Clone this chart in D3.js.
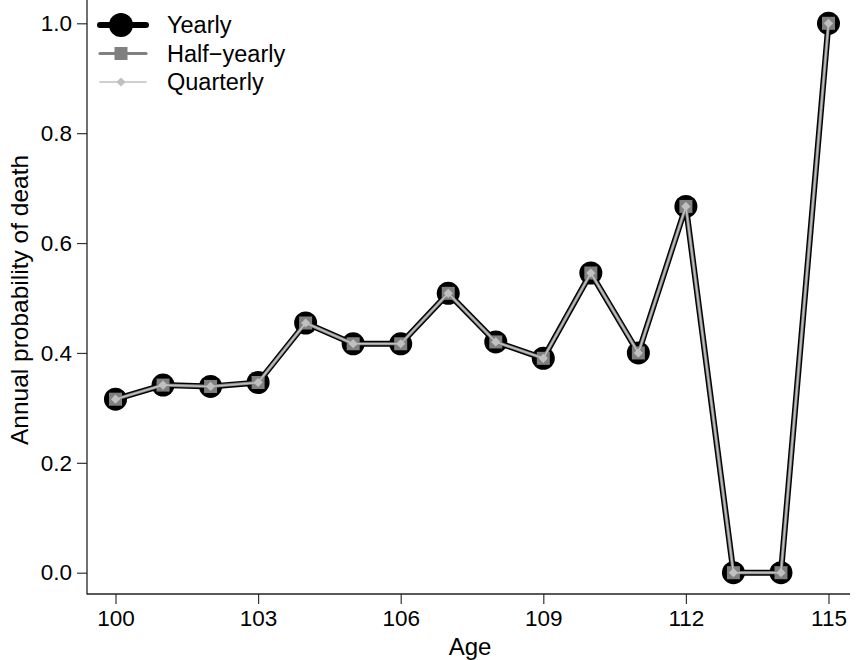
<!DOCTYPE html>
<html>
<head>
<meta charset="utf-8">
<script src="https://cdn.jsdelivr.net/npm/d3@7"></script>
<style>
  body { margin: 0; background: #fff; }
  text { font-family: "Liberation Sans", Arial, Helvetica, sans-serif; }
</style>
</head>
<body>
<div id="vis"></div>
<script>
const width = 857, height = 660;

// data
const ages = [100, 101, 102, 103, 104, 105, 106, 107, 108, 109, 110, 111, 112, 113, 114, 115];
const yearly = [0.3158, 0.3415, 0.3390, 0.3462, 0.4545, 0.4167, 0.4167, 0.5085, 0.4200, 0.3902, 0.5455, 0.4000, 0.6667, 0, 0, 1];
const halfYearly = [0.3158, 0.3415, 0.3390, 0.3462, 0.4545, 0.4167, 0.4167, 0.5085, 0.4200, 0.3902, 0.5455, 0.4000, 0.6667, 0, 0, 1];
const quarterly = [0.3158, 0.3415, 0.3390, 0.3462, 0.4545, 0.4167, 0.4167, 0.5085, 0.4200, 0.3902, 0.5455, 0.4000, 0.6667, 0, 0, 1];
const xTicks = [100, 103, 106, 109, 112, 115];
const yTicks = [0, 0.2, 0.4, 0.6, 0.8, 1.0];
const seriesNames = ['Yearly', 'Half\u2212yearly', 'Quarterly'];

const axisX = 87, axisY = 594;

const svg = d3.select('#vis')
    .append('svg')
    .attr('width', width)
    .attr('height', height);

const xScale = d3.scaleLinear().domain([100, 115]).range([115.5, 828.5]);
const yScale = d3.scaleLinear().domain([0, 1]).range([572.7, 23.3]);

// axes
const xAxis = d3.axisBottom(xScale).tickValues(xTicks).tickSize(10).tickPadding(6).tickFormat(d3.format('d'));
const yAxis = d3.axisLeft(yScale).tickValues(yTicks).tickSize(10).tickPadding(5).tickFormat(d3.format('.1f'));

const gx = svg.append('g')
    .attr('transform', `translate(0,${axisY})`)
    .call(xAxis);
const gy = svg.append('g')
    .attr('transform', `translate(${axisX},0)`)
    .call(yAxis);

[gx, gy].forEach(g => {
    g.select('.domain').remove();
    g.selectAll('.tick line').attr('stroke', '#333').attr('stroke-width', 1.2);
    g.selectAll('.tick text').attr('fill', '#000').style('font-size', '22.5px');
});

svg.append('line')
    .attr('x1', axisX).attr('x2', axisX)
    .attr('y1', 0).attr('y2', axisY + 0.5)
    .attr('stroke', '#222').attr('stroke-width', 1.3);
svg.append('line')
    .attr('x1', axisX).attr('x2', 850)
    .attr('y1', axisY).attr('y2', axisY)
    .attr('stroke', '#222').attr('stroke-width', 1.3);

// axis titles
svg.append('text')
    .attr('x', 470)
    .attr('y', 655)
    .attr('text-anchor', 'middle')
    .style('font-size', '24px')
    .text('Age');

svg.append('text')
    .attr('transform', 'rotate(-90)')
    .attr('x', -300)
    .attr('y', 28)
    .attr('text-anchor', 'middle')
    .style('font-size', '24.5px')
    .text('Annual probability of death');

// series
const line = d3.line()
    .x((d, i) => xScale(ages[i]))
    .y(d => yScale(d));

const plot = svg.append('g');

// yearly: thick black line + big circles
plot.append('path')
    .datum(yearly)
    .attr('d', line)
    .attr('fill', 'none')
    .attr('stroke', '#000')
    .attr('stroke-width', 6)
    .attr('stroke-linejoin', 'round');
plot.selectAll('.yearly')
    .data(yearly)
    .join('circle')
    .attr('class', 'yearly')
    .attr('cx', (d, i) => xScale(ages[i]))
    .attr('cy', d => yScale(d))
    .attr('r', 11.5)
    .attr('fill', '#000');

// half-yearly: gray line + squares
plot.append('path')
    .datum(halfYearly)
    .attr('d', line)
    .attr('fill', 'none')
    .attr('stroke', '#808080')
    .attr('stroke-width', 3.2)
    .attr('stroke-linejoin', 'round');
plot.selectAll('.half')
    .data(halfYearly)
    .join('rect')
    .attr('class', 'half')
    .attr('x', (d, i) => xScale(ages[i]) - 6.5)
    .attr('y', d => yScale(d) - 6.5)
    .attr('width', 13)
    .attr('height', 13)
    .attr('fill', '#808080');

// quarterly: light line + diamonds
plot.append('path')
    .datum(quarterly)
    .attr('d', line)
    .attr('fill', 'none')
    .attr('stroke', '#c0c0c0')
    .attr('stroke-width', 1.5)
    .attr('stroke-linejoin', 'round');
plot.selectAll('.quarter')
    .data(quarterly)
    .join('path')
    .attr('class', 'quarter')
    .attr('transform', (d, i) => `translate(${xScale(ages[i])},${yScale(d)})`)
    .attr('d', 'M0,-4.6L4.6,0L0,4.6L-4.6,0Z')
    .attr('fill', '#c0c0c0');

// legend
const legend = svg.append('g');
const rowY = [25, 53.5, 82];
const lx1 = 100, lx2 = 146, lcx = 121;

legend.append('line').attr('x1', lx1).attr('x2', lx2).attr('y1', rowY[0]).attr('y2', rowY[0])
    .attr('stroke', '#000').attr('stroke-width', 6).attr('stroke-linecap', 'round');
legend.append('circle').attr('cx', lcx).attr('cy', rowY[0]).attr('r', 12).attr('fill', '#000');

legend.append('line').attr('x1', lx1).attr('x2', lx2).attr('y1', rowY[1]).attr('y2', rowY[1])
    .attr('stroke', '#808080').attr('stroke-width', 3.2).attr('stroke-linecap', 'round');
legend.append('rect').attr('x', lcx - 6.5).attr('y', rowY[1] - 6.5).attr('width', 13).attr('height', 13).attr('fill', '#808080');

legend.append('line').attr('x1', lx1).attr('x2', lx2).attr('y1', rowY[2]).attr('y2', rowY[2])
    .attr('stroke', '#c0c0c0').attr('stroke-width', 1.5).attr('stroke-linecap', 'round');
legend.append('path').attr('transform', `translate(${lcx},${rowY[2]})`)
    .attr('d', 'M0,-4.6L4.6,0L0,4.6L-4.6,0Z').attr('fill', '#c0c0c0');

legend.selectAll('.legtext')
    .data(seriesNames)
    .join('text')
    .attr('class', 'legtext')
    .attr('x', 167)
    .attr('y', (d, i) => rowY[i])
    .attr('dy', '0.36em')
    .style('font-size', '23.5px')
    .text(d => d);
</script>
</body>
</html>
